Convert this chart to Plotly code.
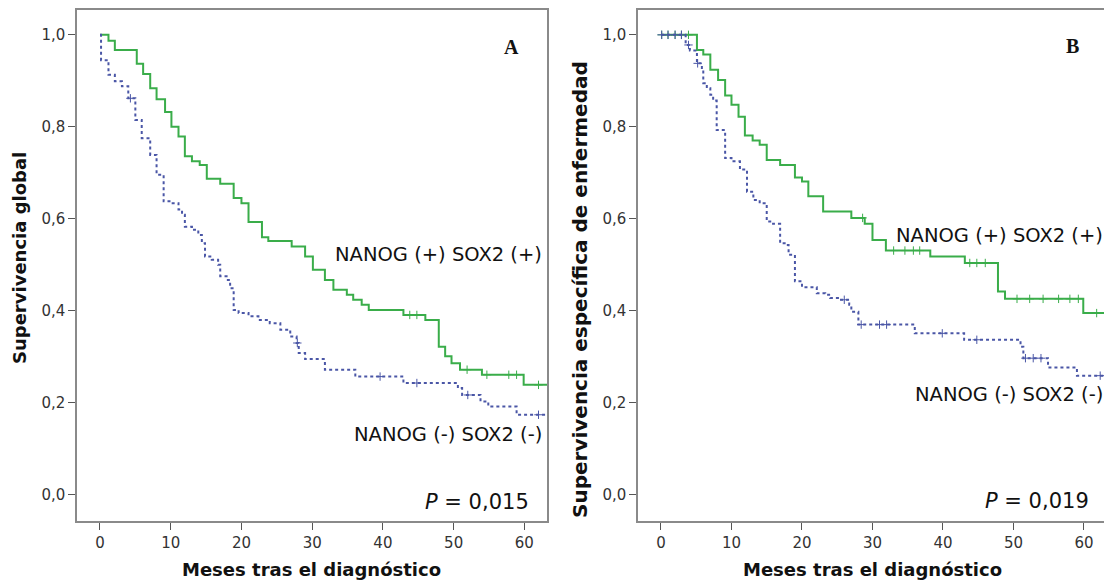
import numpy as np
import plotly.graph_objects as go

# ---------------- data ----------------
# Panel A: Supervivencia global
A_pos_time = [0, 1.2, 2.1, 5.2, 6.1, 7.1, 8.0, 9.2, 10.1, 11.1, 12.0, 13.0, 14.1, 15.1, 17.0, 18.9, 20.0, 21.0, 22.9, 23.8,
              27.1, 29.0, 30.1, 31.8, 33.0, 34.9, 35.8, 37.0, 38.0, 42.9, 46.0, 47.9, 48.8, 49.7, 50.9, 54.0, 59.9, 65]
A_pos_surv = [1.0, 0.987, 0.967, 0.937, 0.915, 0.884, 0.860, 0.832, 0.800, 0.779, 0.736, 0.725, 0.717, 0.687, 0.676, 0.645, 0.634, 0.593, 0.560, 0.552,
              0.540, 0.518, 0.489, 0.467, 0.446, 0.435, 0.424, 0.413, 0.402, 0.391, 0.380, 0.322, 0.301, 0.286, 0.272, 0.261, 0.239, 0.239]
A_pos_cens = [43.8, 44.8, 51.9, 54.7, 57.8, 58.9, 62.0]

A_neg_time = [0, 0.15, 1.2, 2.1, 3.1, 4.0, 5.0, 5.9, 7.1, 8.0, 9.0, 10.1, 11.1, 11.6, 12.0, 13.0, 13.9, 14.4, 14.85, 15.8,
              16.7, 17.0, 17.9, 18.4, 18.9, 19.6, 21.0, 22.4, 24.0, 25.5, 26.9, 27.8, 28.1, 29.0, 31.8, 36.1, 42.9, 50.6, 51.2, 53.8,
              54.9, 58.9, 65]
A_neg_surv = [1.0, 0.945, 0.913, 0.899, 0.888, 0.862, 0.815, 0.775, 0.739, 0.696, 0.638, 0.634, 0.620, 0.609, 0.583, 0.576, 0.565, 0.547, 0.518, 0.511,
              0.500, 0.475, 0.467, 0.449, 0.402, 0.395, 0.388, 0.380, 0.373, 0.359, 0.344, 0.330, 0.308, 0.295, 0.272, 0.257, 0.243, 0.232, 0.217, 0.203,
              0.192, 0.174, 0.174]
A_neg_cens = [4.3, 27.9, 39.6, 44.8, 52.0, 62.0]

# Panel B: Supervivencia especifica de enfermedad
B_pos_time = [0, 5.1, 6.0, 7.0, 8.1, 9.1, 10.0, 11.0, 11.9, 13.0, 14.0, 15.0, 16.9, 19.0, 20.0, 20.9, 23.0, 27.0, 28.9, 30.0,
              31.9, 38.2, 43.1, 47.8, 48.8, 59.9, 65]
B_pos_surv = [1.0, 0.967, 0.957, 0.924, 0.902, 0.868, 0.848, 0.822, 0.781, 0.770, 0.761, 0.728, 0.717, 0.690, 0.681, 0.649, 0.616, 0.602, 0.589, 0.554,
              0.531, 0.518, 0.504, 0.442, 0.426, 0.395, 0.395]
B_pos_cens = [0.1, 1.0, 2.0, 2.9, 3.9, 28.6, 33.0, 34.6, 35.8, 36.7, 43.8, 44.8, 46.0, 50.5, 52.3, 54.2, 56.4, 58.0, 59.2, 61.8]

B_neg_time = [0, 3.5, 4.1, 5.1, 5.8, 6.0, 6.5, 7.0, 7.4, 7.9, 9.1, 10.0, 11.2, 12.2, 13.1, 14.0, 15.0, 15.9, 16.9, 17.8,
              18.1, 19.0, 20.0, 22.1, 23.3, 24.0, 25.1, 26.7, 27.0, 28.0, 36.0, 43.0, 51.0, 51.4, 54.9, 59.0, 65]
B_neg_surv = [1.0, 0.978, 0.966, 0.938, 0.928, 0.895, 0.884, 0.870, 0.857, 0.793, 0.732, 0.725, 0.707, 0.659, 0.641, 0.634, 0.594, 0.589, 0.547, 0.543,
              0.522, 0.464, 0.451, 0.438, 0.435, 0.428, 0.424, 0.413, 0.398, 0.370, 0.351, 0.337, 0.322, 0.297, 0.277, 0.259, 0.259]
B_neg_cens = [0.1, 1.0, 2.0, 2.9, 3.9, 5.2, 26.0, 28.4, 31.0, 32.0, 39.9, 44.8, 51.7, 52.8, 53.9, 62.3]

x_ticks = [0, 10, 20, 30, 40, 50, 60]
y_ticks = [0.0, 0.2, 0.4, 0.6, 0.8, 1.0]

GREEN = "#3aad4a"
BLUE = "#4a56a6"

W, H = 1104, 583


def px_x(p):
    return p / W


def px_y(p):
    return 1 - p / H


def step_value(times, surv, t):
    i = np.searchsorted(np.array(times), t, side="right") - 1
    return np.array(surv)[i]


fig = go.Figure()


def add_group(times, surv, cens, color, dash, xa, ya):
    fig.add_trace(go.Scatter(x=times, y=surv, mode="lines", line=dict(color=color, width=2, dash=dash, shape="hv"),
                             xaxis=xa, yaxis=ya, showlegend=False, hoverinfo="skip"))
    fig.add_trace(go.Scatter(x=cens, y=step_value(times, surv, cens), mode="markers",
                             marker=dict(symbol="cross-thin", size=6, line=dict(color=color, width=1)),
                             xaxis=xa, yaxis=ya, showlegend=False, hoverinfo="skip"))


add_group(A_pos_time, A_pos_surv, A_pos_cens, GREEN, "solid", "x", "y")
add_group(A_neg_time, A_neg_surv, A_neg_cens, BLUE, "3px,3px", "x", "y")
add_group(B_pos_time, B_pos_surv, B_pos_cens, GREEN, "solid", "x2", "y2")
add_group(B_neg_time, B_neg_surv, B_neg_cens, BLUE, "3px,3px", "x2", "y2")

axis_common = dict(showgrid=False, zeroline=False, showline=True, mirror=True, linecolor="#8a8a8a", linewidth=1.5,
                   ticks="outside", ticklen=7, tickcolor="#555555", tickwidth=1.2,
                   tickfont=dict(family="DejaVu Sans", size=15, color="#333333"), automargin=False)

ydom = [px_y(521), px_y(10)]
fig.update_layout(
    width=W, height=H, margin=dict(l=0, r=0, t=0, b=0),
    paper_bgcolor="white", plot_bgcolor="white", separators=",.",
    xaxis=dict(domain=[px_x(77), px_x(547)], range=[-3.25, 63.2], tickvals=x_ticks, anchor="y", **axis_common),
    yaxis=dict(domain=ydom, range=[-0.057, 1.054], tickvals=y_ticks, tickformat=".1f", anchor="x", **axis_common),
    xaxis2=dict(domain=[px_x(638), 1.0], range=[-3.26, 62.84], tickvals=x_ticks, anchor="y2", **axis_common),
    yaxis2=dict(domain=ydom, range=[-0.057, 1.054], tickvals=y_ticks, tickformat=".1f", anchor="x2", **axis_common),
)

ann = []
title_font = dict(family="DejaVu Sans", size=18, color="#111111")
ann.append(dict(text="<b>Meses tras el diagnóstico</b>", x=px_x(311), y=px_y(569), font=title_font))
ann.append(dict(text="<b>Meses tras el diagnóstico</b>", x=px_x(872), y=px_y(569), font=title_font))
ann.append(dict(text="<b>Supervivencia global</b>", x=px_x(20), y=px_y(258), textangle=-90, font=title_font))
ann.append(dict(text="<b>Supervivencia específica de enfermedad</b>", x=px_x(580), y=px_y(290), textangle=-90,
                font=dict(family="DejaVu Sans", size=20, color="#111111")))

lab_font = dict(family="DejaVu Sans", size=19.5, color="#111111")
ann.append(dict(text="NANOG (+) SOX2 (+)", x=px_x(544), y=px_y(254), xanchor="right", font=lab_font))
ann.append(dict(text="NANOG (-) SOX2 (-)", x=px_x(544), y=px_y(434), xanchor="right", font=lab_font))
ann.append(dict(text="NANOG (+) SOX2 (+)", x=px_x(1105), y=px_y(235), xanchor="right", font=lab_font))
ann.append(dict(text="NANOG (-) SOX2 (-)", x=px_x(1105), y=px_y(394), xanchor="right", font=lab_font))

p_font = dict(family="DejaVu Sans", size=21, color="#111111")
ann.append(dict(text="<i>P</i> = 0,015", x=px_x(531), y=px_y(502), xanchor="right", font=p_font))
ann.append(dict(text="<i>P</i> = 0,019", x=px_x(1091), y=px_y(501), xanchor="right", font=p_font))

letter_font = dict(family="Liberation Serif", size=20, color="#111111")
ann.append(dict(text="<b>A</b>", x=px_x(511), y=px_y(47), font=letter_font))
ann.append(dict(text="<b>B</b>", x=px_x(1072), y=px_y(46), font=letter_font))

for a in ann:
    a.setdefault("xanchor", "center")
    a.setdefault("yanchor", "middle")
    a.update(xref="paper", yref="paper", showarrow=False)
fig.update_layout(annotations=ann)

fig.write_html("out.html")
